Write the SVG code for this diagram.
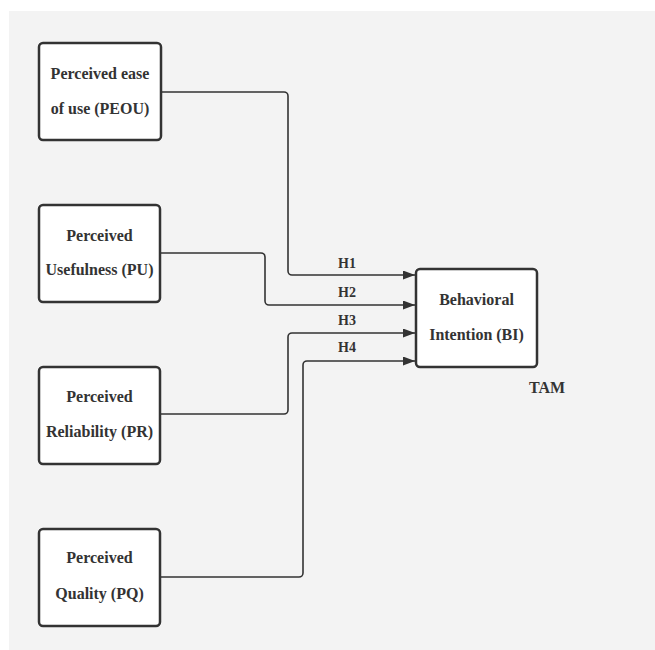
<svg xmlns="http://www.w3.org/2000/svg" width="655" height="650" viewBox="0 0 655 650">
<style>
.box{fill:#ffffff;stroke:#333333;stroke-width:2.5}
.t{font-family:"Liberation Serif","Times New Roman",serif;font-weight:bold;font-size:16px;fill:#333333;text-anchor:middle}
.h{font-family:"Liberation Serif","Times New Roman",serif;font-weight:bold;font-size:14px;fill:#333333;text-anchor:middle}
.c{fill:none;stroke:#333333;stroke-width:1.6}
</style>
<defs>
<marker id="arr" markerUnits="userSpaceOnUse" markerWidth="13" markerHeight="10" refX="12" refY="4.5" orient="auto">
<path d="M0,0 L12,4.5 L0,9 z" fill="#333333"/>
</marker>
</defs>
<rect x="0" y="0" width="655" height="650" fill="#ffffff"/>
<rect x="9" y="11" width="646" height="639" fill="#f3f3f3"/>
<g id="connectors">
<path class="c" d="M161,92 H284 A4,4 0 0 1 288,96 V271 A4,4 0 0 0 292,275 H415" marker-end="url(#arr)"/>
<path class="c" d="M161,253 H261 A4,4 0 0 1 265,257 V301 A4,4 0 0 0 269,305 H415" marker-end="url(#arr)"/>
<path class="c" d="M161,414 H284 A4,4 0 0 0 288,410 V337 A4,4 0 0 1 292,333 H415" marker-end="url(#arr)"/>
<path class="c" d="M161,577 H299 A4,4 0 0 0 303,573 V365 A4,4 0 0 1 307,361 H415" marker-end="url(#arr)"/>
<text class="h" x="347" y="268">H1</text>
<text class="h" x="347" y="297">H2</text>
<text class="h" x="347" y="325">H3</text>
<text class="h" x="347" y="352">H4</text>
</g>
<g id="peou">
<rect class="box" x="39" y="43" width="122" height="97" rx="4"/>
<text class="t" x="100" y="79">Perceived ease</text>
<text class="t" x="100" y="114">of use (PEOU)</text>
</g>
<g id="pu">
<rect class="box" x="39" y="205" width="121" height="97" rx="4"/>
<text class="t" x="99.5" y="241">Perceived</text>
<text class="t" x="99.5" y="275">Usefulness (PU)</text>
</g>
<g id="pr">
<rect class="box" x="39" y="367" width="121" height="97" rx="4"/>
<text class="t" x="99.5" y="402">Perceived</text>
<text class="t" x="99.5" y="437">Reliability (PR)</text>
</g>
<g id="pq">
<rect class="box" x="39" y="529" width="121" height="97" rx="4"/>
<text class="t" x="99.5" y="563">Perceived</text>
<text class="t" x="99.5" y="599">Quality (PQ)</text>
</g>
<g id="bi">
<rect class="box" x="416" y="269" width="121" height="98" rx="4"/>
<text class="t" x="476.5" y="305">Behavioral</text>
<text class="t" x="476.5" y="340">Intention (BI)</text>
</g>
<g id="tam">
<text class="t" x="547" y="393">TAM</text>
</g>
</svg>
